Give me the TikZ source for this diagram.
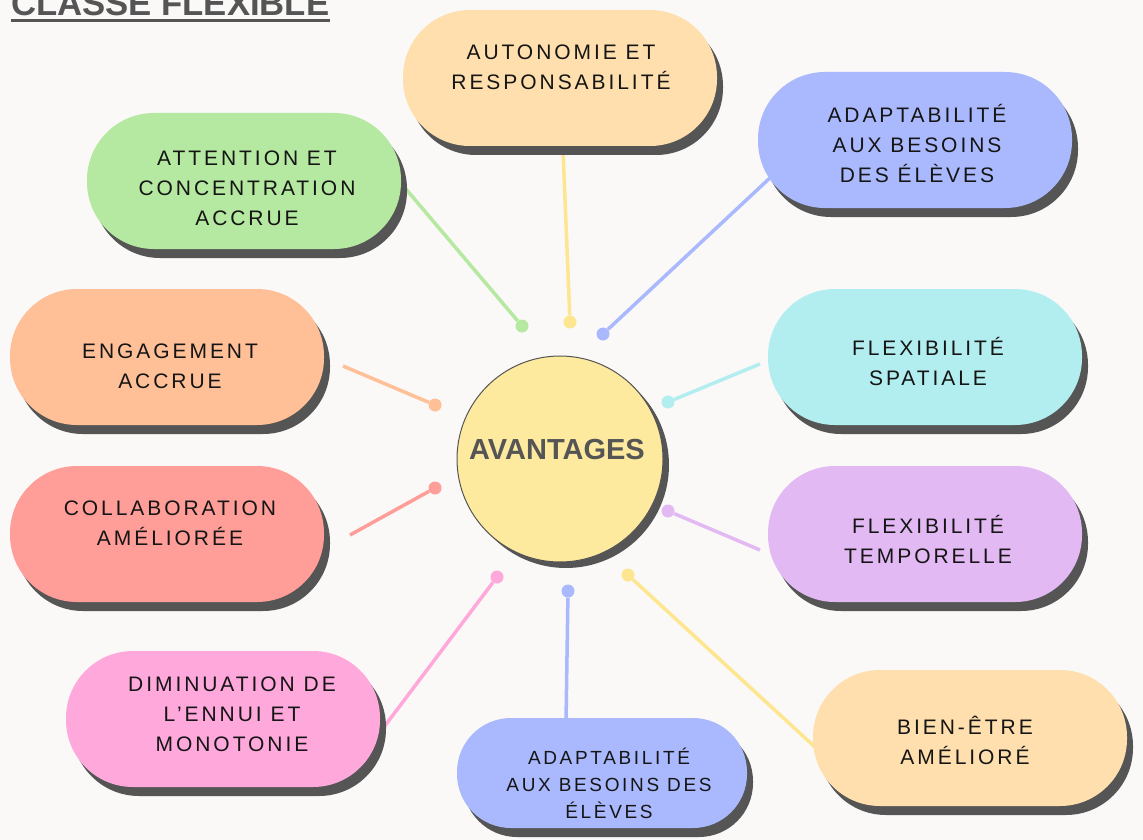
\documentclass[tikz,border=0pt]{standalone}
\usepackage{fontspec}
\setmainfont{Liberation Sans}
\newfontfamily\pillfont[LetterSpace=14]{Liberation Sans}
\usetikzlibrary{shadows}
\definecolor{bg}{HTML}{FAF9F7}
\definecolor{shd}{HTML}{555555}
\definecolor{txtc}{HTML}{151515}
\definecolor{cPeach}{HTML}{FFDFAD}
\definecolor{cGreen}{HTML}{B5E8A0}
\definecolor{cBlue}{HTML}{AAB9FD}
\definecolor{cOrange}{HTML}{FFC097}
\definecolor{cCyan}{HTML}{B2EEF0}
\definecolor{cRed}{HTML}{FF9E98}
\definecolor{cPurple}{HTML}{E3B9F3}
\definecolor{cPink}{HTML}{FFA8DC}
\definecolor{cYellow}{HTML}{FEEA9E}
\definecolor{lYellow}{HTML}{FDE68F}
\begin{document}
\begin{tikzpicture}[x=1pt,y=-1pt,
  pill/.style={rectangle, rounded corners=67pt, minimum width=314pt, minimum height=136pt, inner sep=0pt,
    drop shadow={shadow xshift=6pt, shadow yshift=-9pt, fill=shd, opacity=1}},
  txt/.style={font=\pillfont\fontsize{21}{30}\selectfont, text=txtc, align=center, inner sep=0pt},
  dotnode/.style={circle, inner sep=0pt, minimum size=13pt},
  conn/.style={line width=3.5pt}]
\fill[bg] (0,0) rectangle (1143,840);
\useasboundingbox (0,0) rectangle (1143,840);

% title
\node[anchor=base west, inner sep=0pt, font=\bfseries\fontsize{34.7}{40}\selectfont, text=shd] (title) at (11,16) {CLASSE FLEXIBLE};
\fill[shd] ([yshift=-3pt]title.base west) rectangle ([yshift=-6pt]title.base east);

% dots
\node[dotnode, fill=cGreen] (gD) at (522,326) {};
\node[dotnode, fill=lYellow] (yD) at (570,322) {};
\node[dotnode, fill=cBlue] (bD) at (603,334) {};
\node[dotnode, fill=cOrange] (oD) at (435,405) {};
\node[dotnode, fill=cCyan] (cD) at (668,402) {};
\node[dotnode, fill=cRed] (rD) at (435,488) {};
\node[dotnode, fill=cPurple] (pD) at (668,511) {};
\node[dotnode, fill=cPink] (kD) at (497,577) {};
\node[dotnode, fill=cBlue] (b2D) at (568,591) {};
\node[dotnode, fill=lYellow] (y2D) at (628,575) {};

% connector free ends
\coordinate (gS) at (400,182);
\coordinate (yS) at (563,150);
\coordinate (bS) at (772,176);
\coordinate (oS) at (343,366);
\coordinate (cS) at (760,364);
\coordinate (rS) at (350,535);
\coordinate (pS) at (760,550);
\coordinate (kS) at (384,727);
\coordinate (b2S) at (566,722);
\coordinate (y2S) at (816,748);

\draw[conn, cGreen] (gS) -- (gD);
\draw[conn, lYellow] (yS) -- (yD);
\draw[conn, cBlue] (bS) -- (bD);
\draw[conn, cOrange] (oS) -- (oD);
\draw[conn, cCyan] (cS) -- (cD);
\draw[conn, cRed] (rS) -- (rD);
\draw[conn, cPurple] (pS) -- (pD);
\draw[conn, cPink] (kS) -- (kD);
\draw[conn, cBlue] (b2S) -- (b2D);
\draw[conn, lYellow] (y2S) -- (y2D);

% pills
\node[pill, fill=cPeach] (p1) at (560,78) {};
\node[txt] (t1) at (561,67) {AUTONOMIE ET\\RESPONSABILITÉ};

\node[pill, fill=cGreen] (p2) at (244,181) {};
\node[txt] (t2) at (247,188) {ATTENTION ET\\CONCENTRATION\\ACCRUE};

\node[pill, fill=cBlue] (p3) at (915,140) {};
\node[txt] (t3) at (917,143) {ADAPTABILITÉ\\AUX BESOINS\\DES ÉLÈVES};

\node[pill, fill=cOrange] (p4) at (167,357) {};
\node[txt] (t4) at (170,366) {ENGAGEMENT\\ACCRUE};

\node[pill, fill=cCyan] (p5) at (925,357) {};
\node[txt] (t5) at (928,361) {FLEXIBILITÉ\\SPATIALE};

\node[pill, fill=cRed] (p6) at (167,534) {};
\node[txt] (t6) at (170,523) {COLLABORATION\\AMÉLIORÉE};

\node[pill, fill=cPurple] (p7) at (925,534) {};
\node[txt] (t7) at (928,539) {FLEXIBILITÉ\\TEMPORELLE};

\node[pill, fill=cPink] (p8) at (223,719) {};
\node[txt] (t8) at (232,714) {DIMINUATION DE\\L’ENNUI ET\\MONOTONIE};

\node[pill, fill=cBlue, minimum width=290pt, minimum height=110pt, rounded corners=54pt] (p9) at (602,773) {};
\node[txt, font=\pillfont\fontsize{19}{27}\selectfont] (t9) at (609,783) {ADAPTABILITÉ\\AUX BESOINS DES\\ÉLÈVES};

\node[pill, fill=cPeach] (p10) at (970,738) {};
\node[txt] (t10) at (965,740) {BIEN-ÊTRE\\AMÉLIORÉ};

% centre
\node[circle, minimum size=206pt, inner sep=0pt, fill=cYellow, draw=shd, line width=1pt,
  drop shadow={shadow xshift=6pt, shadow yshift=-6pt, fill=shd, opacity=1}] (center) at (560,459) {};
\node[inner sep=0pt, font=\bfseries\fontsize{29}{32}\selectfont, text=shd] (lbl) at (557,450) {AVANTAGES};
\end{tikzpicture}
\end{document}
